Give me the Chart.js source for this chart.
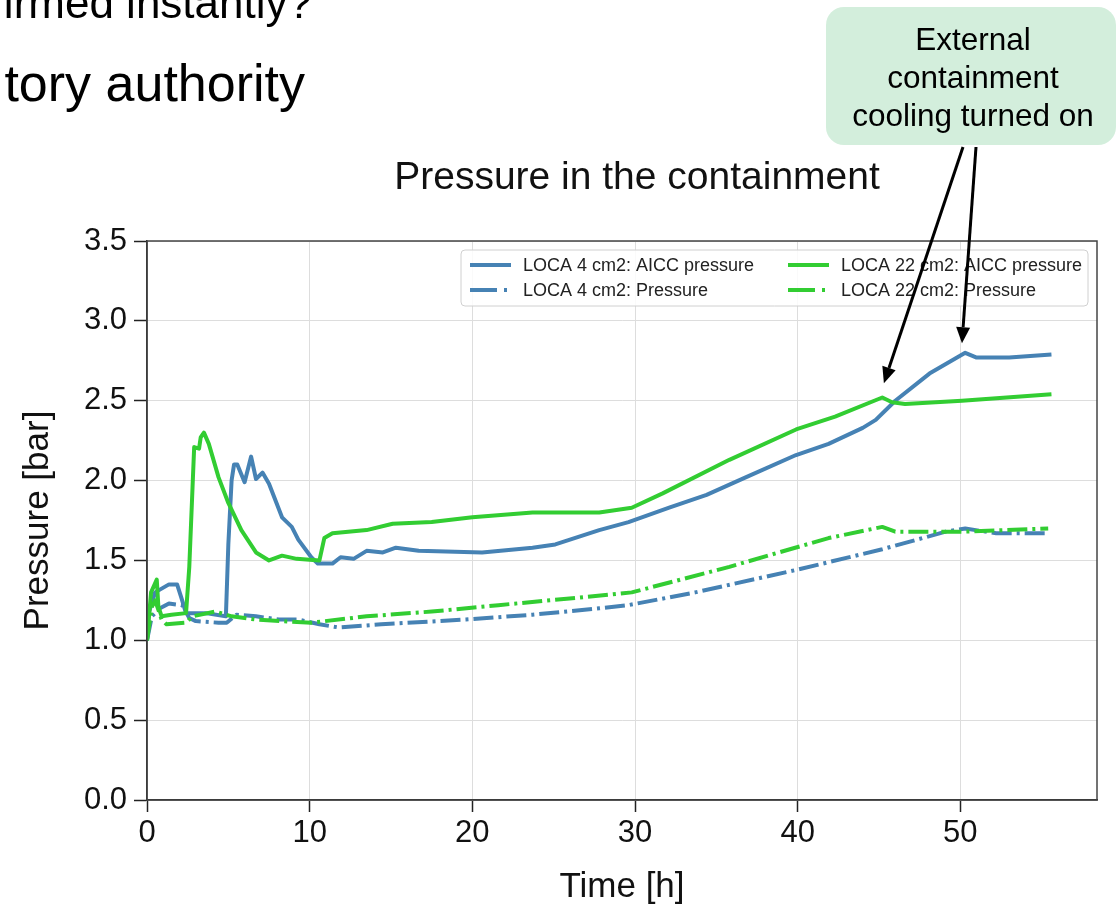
<!DOCTYPE html>
<html>
<head>
<meta charset="utf-8">
<title>Pressure in the containment</title>
<script src="https://cdn.jsdelivr.net/npm/chart.js@4.4.1/dist/chart.umd.min.js"></script>
<style>
  html, body { margin: 0; padding: 0; background: #fff; }
  #wrap { position: relative; width: 1119px; height: 910px; overflow: hidden; }
</style>
</head>
<body>
<div id="wrap"><canvas id="pressureChart" width="1119" height="910"></canvas></div>
<script>
// Values (time in h, pressure in bar)
const timeLoca4Aicc = [0, 0.1, 0.5, 1.35, 1.85, 2.1, 2.4, 3.6, 4.85, 5.0, 5.2, 5.35, 5.55, 6.0, 6.4, 6.7, 7.1, 7.5, 8.3, 8.9, 9.3, 10.1, 10.5, 11.4, 11.9, 12.7, 13.5, 14.5, 15.3, 16.7, 20.6, 23.7, 25.1, 27.8, 29.6, 32.1, 34.4, 36.8, 39.9, 41.9, 44.0, 44.8, 46.0, 48.1, 50.3, 51.0, 53.0, 55.6];
const presLoca4Aicc = [1.0, 1.17, 1.30, 1.35, 1.35, 1.27, 1.17, 1.17, 1.15, 1.60, 2.00, 2.10, 2.10, 1.99, 2.15, 2.01, 2.05, 1.98, 1.77, 1.71, 1.63, 1.52, 1.48, 1.48, 1.52, 1.51, 1.56, 1.55, 1.58, 1.56, 1.55, 1.58, 1.60, 1.69, 1.74, 1.83, 1.91, 2.02, 2.16, 2.23, 2.33, 2.38, 2.50, 2.67, 2.80, 2.77, 2.77, 2.79];

const timeLoca4Pres = [0, 0.3, 0.8, 1.35, 2.15, 2.6, 3.0, 4.4, 4.9, 5.5, 6.7, 8.1, 9.3, 10.6, 11.8, 14.4, 19.6, 23.7, 27.8, 29.6, 33.7, 39.9, 45.2, 49.1, 50.3, 52.2, 55.3];
const presLoca4Pres = [1.0, 1.15, 1.20, 1.23, 1.22, 1.14, 1.12, 1.11, 1.11, 1.16, 1.15, 1.13, 1.13, 1.10, 1.08, 1.10, 1.13, 1.16, 1.20, 1.22, 1.30, 1.44, 1.57, 1.68, 1.70, 1.67, 1.67];

const timeLoca22Aicc = [0, 0.25, 0.6, 0.7, 0.9, 1.5, 2.4, 2.6, 2.8, 2.9, 3.2, 3.3, 3.5, 3.8, 4.4, 5.0, 5.8, 6.7, 7.5, 8.3, 9.2, 10.6, 10.9, 11.4, 13.5, 15.1, 17.5, 20.0, 23.7, 27.8, 29.8, 31.7, 35.8, 39.9, 42.3, 45.2, 45.8, 46.6, 50.1, 55.6];
const presLoca22Aicc = [1.0, 1.30, 1.38, 1.21, 1.15, 1.16, 1.17, 1.46, 1.96, 2.21, 2.20, 2.27, 2.30, 2.23, 2.02, 1.86, 1.69, 1.55, 1.50, 1.53, 1.51, 1.50, 1.64, 1.67, 1.69, 1.73, 1.74, 1.77, 1.80, 1.80, 1.83, 1.92, 2.13, 2.32, 2.40, 2.52, 2.49, 2.48, 2.50, 2.54];

const timeLoca22Pres = [0, 0.3, 0.5, 0.9, 1.2, 2.4, 2.8, 4.2, 5.2, 6.7, 8.3, 10.1, 13.5, 17.5, 21.6, 25.8, 29.8, 35.8, 41.9, 45.2, 46.0, 50.1, 55.4];
const presLoca22Pres = [1.0, 1.21, 1.25, 1.13, 1.10, 1.11, 1.15, 1.18, 1.15, 1.13, 1.12, 1.11, 1.15, 1.18, 1.22, 1.26, 1.30, 1.46, 1.64, 1.71, 1.68, 1.68, 1.70];

const seriesLabels = [
  "LOCA 4 cm2: AICC pressure",
  "LOCA 4 cm2: Pressure",
  "LOCA 22 cm2: AICC pressure",
  "LOCA 22 cm2: Pressure"
];

const xTicks = [0, 10, 20, 30, 40, 50];
const yTicks = [0, 0.5, 1.0, 1.5, 2.0, 2.5, 3.0, 3.5];

// where the two arrows of the note point (time, pressure)
const arrowTargets = [[45.3, 2.61], [50.1, 2.86]];

(function () {
  "use strict";

  const FONT    = '"Liberation Sans", Arial, Helvetica, sans-serif';
  const BLUE    = "#4682b4";
  const GREEN   = "#32cd32";
  const DASHDOT = [20, 5, 3, 5];

  /* ------------------------------------------------------------------
   * Helpers
   * ------------------------------------------------------------------ */
  function _points(times, values) {
    return times.map(function (t, i) { return { x: t, y: values[i] }; });
  }

  function _series(idx, times, values, color, dashed) {
    return {
      label:           seriesLabels[idx],
      data:            _points(times, values),
      borderColor:     color,
      backgroundColor: color,
      borderWidth:     4,
      borderDash:      dashed ? DASHDOT : [],
      borderJoinStyle: "round",
      pointRadius:     0,
      tension:         0,
      fill:            false,
    };
  }

  function _roundRect(ctx, x, y, w, h, r) {
    ctx.beginPath();
    ctx.moveTo(x + r, y);
    ctx.arcTo(x + w, y, x + w, y + h, r);
    ctx.arcTo(x + w, y + h, x, y + h, r);
    ctx.arcTo(x, y + h, x, y, r);
    ctx.arcTo(x, y, x + w, y, r);
    ctx.closePath();
  }

  function _arrow(ctx, x0, y0, x1, y1) {
    const ang = Math.atan2(y1 - y0, x1 - x0);
    const head = 16, half = 7;
    const bx = x1 - head * Math.cos(ang), by = y1 - head * Math.sin(ang);
    ctx.strokeStyle = "#000";
    ctx.lineWidth = 3;
    ctx.beginPath();
    ctx.moveTo(x0, y0);
    ctx.lineTo(bx, by);
    ctx.stroke();
    ctx.fillStyle = "#000";
    ctx.beginPath();
    ctx.moveTo(x1, y1);
    ctx.lineTo(bx + half * Math.sin(ang), by - half * Math.cos(ang));
    ctx.lineTo(bx - half * Math.sin(ang), by + half * Math.cos(ang));
    ctx.closePath();
    ctx.fill();
  }

  /* ------------------------------------------------------------------
   * Overlay: slide text, title, frame, legend, note with arrows
   * ------------------------------------------------------------------ */
  function _drawLegend(ctx, area, datasets) {
    const boxR = area.right - 9, boxT = area.top + 9;
    const boxL = boxR - 627, boxH = 56;
    ctx.save();
    _roundRect(ctx, boxL, boxT, boxR - boxL, boxH, 4);
    ctx.fillStyle = "rgba(255,255,255,0.85)";
    ctx.fill();
    ctx.strokeStyle = "#d0d0d0";
    ctx.lineWidth = 1;
    ctx.stroke();

    const cols = [boxL + 9, boxL + 327];
    const rows = [boxT + 15, boxT + 40];
    ctx.font = "18px " + FONT;
    ctx.textAlign = "left";
    ctx.textBaseline = "middle";
    datasets.forEach(function (ds, i) {
      const x = cols[Math.floor(i / 2)], y = rows[i % 2];
      ctx.strokeStyle = ds.borderColor;
      ctx.lineWidth = 4;
      ctx.setLineDash(ds.borderDash.length ? [27, 7, 3, 7] : []);
      ctx.beginPath();
      ctx.moveTo(x, y);
      ctx.lineTo(x + 41, y);
      ctx.stroke();
      ctx.setLineDash([]);
      ctx.fillStyle = "#222";
      ctx.fillText(ds.label, x + 53, y + 1);
    });
    ctx.restore();
  }

  const overlayPlugin = {
    id: "overlay",
    afterDraw: function (chart) {
      const ctx  = chart.ctx;
      const area = chart.chartArea;
      const xs   = chart.scales.x, ys = chart.scales.y;

      ctx.save();

      // frame (top/right) of the axes
      ctx.strokeStyle = "#444";
      ctx.lineWidth = 1.5;
      ctx.strokeRect(area.left, area.top, area.right - area.left, area.bottom - area.top);

      // cropped slide text behind the chart
      ctx.fillStyle = "#000";
      ctx.textAlign = "right";
      ctx.textBaseline = "alphabetic";
      ctx.font = "44px " + FONT;
      ctx.fillText("firmed instantly?", 312, 18);
      ctx.font = "52px " + FONT;
      ctx.fillText("tory authority", 305, 101);

      // chart title
      ctx.textAlign = "center";
      ctx.font = "39px " + FONT;
      ctx.fillStyle = "#111";
      ctx.fillText("Pressure in the containment", 637, 189);

      _drawLegend(ctx, area, chart.data.datasets);

      // note box
      ctx.textAlign = "center";
      _roundRect(ctx, 826, 7, 290, 138, 18);
      ctx.fillStyle = "#d3eedc";
      ctx.fill();
      ctx.fillStyle = "#000";
      ctx.font = "31.5px " + FONT;
      ctx.fillText("External", 973, 50);
      ctx.fillText("containment", 973, 88);
      ctx.fillText("cooling turned on", 973, 126);

      // arrows to the two curves
      const starts = [[963, 147], [976, 147]];
      arrowTargets.forEach(function (tg, i) {
        _arrow(ctx, starts[i][0], starts[i][1], xs.getPixelForValue(tg[0]), ys.getPixelForValue(tg[1]));
      });

      ctx.restore();
    },
  };

  /* ------------------------------------------------------------------
   * Chart
   * ------------------------------------------------------------------ */
  function init() {
    const el = document.getElementById("pressureChart");

    const datasets = [
      _series(0, timeLoca4Aicc,  presLoca4Aicc,  BLUE,  false),
      _series(1, timeLoca4Pres,  presLoca4Pres,  BLUE,  true),
      _series(2, timeLoca22Aicc, presLoca22Aicc, GREEN, false),
      _series(3, timeLoca22Pres, presLoca22Pres, GREEN, true),
    ];
    // later series on top, like the original plot
    datasets.forEach(function (ds, i) { ds.order = 3 - i; });

    new Chart(el.getContext("2d"), {
      type: "line",
      data: { datasets: datasets },
      options: {
        responsive:       false,
        animation:        false,
        devicePixelRatio: 1,
        layout: { padding: { top: 241, right: 22, left: 0, bottom: 0 } },
        plugins: {
          legend:  { display: false },
          tooltip: { enabled: false },
        },
        scales: {
          x: {
            type: "linear",
            min:  0,
            max:  58.4,
            afterFit: function (s) { s.height = 110; },
            afterBuildTicks: function (s) { s.ticks = xTicks.map(function (v) { return { value: v }; }); },
            grid:   { color: "#dddddd", lineWidth: 1, tickColor: "#222", tickLength: 12, tickWidth: 1.5 },
            border: { color: "#222", width: 1.5 },
            ticks:  { color: "#111", font: { family: FONT, size: 31 }, padding: 3, maxRotation: 0 },
            title:  { display: true, text: "Time [h]", color: "#111", font: { family: FONT, size: 35 }, padding: { bottom: 2 } },
          },
          y: {
            min: 0,
            max: 3.5,
            afterFit: function (s) { s.width = 147; },
            afterBuildTicks: function (s) { s.ticks = yTicks.map(function (v) { return { value: v }; }); },
            grid:   { color: "#dddddd", lineWidth: 1, tickColor: "#222", tickLength: 13, tickWidth: 1.5 },
            border: { color: "#222", width: 1.5 },
            ticks:  {
              color: "#111",
              font:  { family: FONT, size: 31 },
              padding: 7,
              callback: function (v) { return Number(v).toFixed(1); },
            },
            title:  { display: true, text: "Pressure [bar]", color: "#111", font: { family: FONT, size: 35 }, padding: { top: 17 } },
          },
        },
      },
      plugins: [overlayPlugin],
    });
  }

  init();
}());
</script>
</body>
</html>
